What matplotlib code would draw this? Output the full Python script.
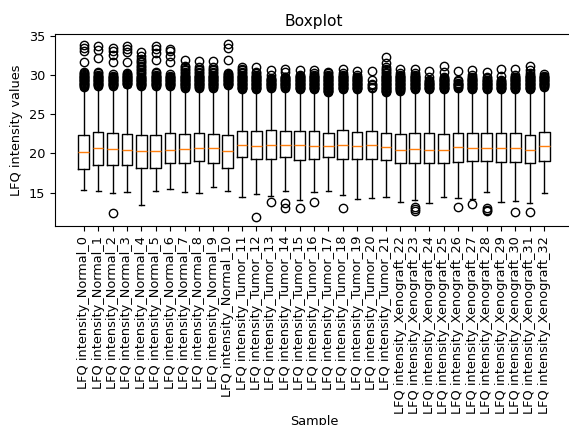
import matplotlib
matplotlib.use('Agg')
import matplotlib.pyplot as plt

plt.rcParams['font.size'] = 9.3

labels = [
    "LFQ intensity_Normal_0", "LFQ intensity_Normal_1", "LFQ intensity_Normal_2",
    "LFQ intensity_Normal_3", "LFQ intensity_Normal_4", "LFQ intensity_Normal_5",
    "LFQ intensity_Normal_6", "LFQ intensity_Normal_7", "LFQ intensity_Normal_8",
    "LFQ intensity_Normal_9", "LFQ intensity_Normal_10",
    "LFQ intensity_Tumor_11", "LFQ intensity_Tumor_12", "LFQ intensity_Tumor_13",
    "LFQ intensity_Tumor_14", "LFQ intensity_Tumor_15", "LFQ intensity_Tumor_16",
    "LFQ intensity_Tumor_17", "LFQ intensity_Tumor_18", "LFQ intensity_Tumor_19",
    "LFQ intensity_Tumor_20", "LFQ intensity_Tumor_21",
    "LFQ intensity_Xenograft_22", "LFQ intensity_Xenograft_23", "LFQ intensity_Xenograft_24",
    "LFQ intensity_Xenograft_25", "LFQ intensity_Xenograft_26", "LFQ intensity_Xenograft_27",
    "LFQ intensity_Xenograft_28", "LFQ intensity_Xenograft_29", "LFQ intensity_Xenograft_30",
    "LFQ intensity_Xenograft_31", "LFQ intensity_Xenograft_32",
]

q1 = [18.06, 18.57, 18.53, 18.49, 18.15, 18.15, 18.74, 18.76, 19.03, 18.76, 18.15,
      19.50, 19.33, 19.29, 19.50, 19.21, 19.33, 19.50, 19.33, 19.25, 19.33, 19.21,
      18.82, 18.82, 18.82, 18.82, 18.91, 18.99, 18.99, 18.91, 18.89, 18.74, 19.08]
medians = [20.18, 20.69, 20.61, 20.48, 20.27, 20.27, 20.48, 20.52, 20.76, 20.67, 20.27,
           21.03, 20.99, 21.12, 21.12, 21.12, 20.99, 20.99, 21.03, 20.95, 21.03, 20.78,
           20.44, 20.57, 20.48, 20.44, 20.78, 20.69, 20.69, 20.69, 20.67, 20.44, 20.95]
q3 = [22.31, 22.69, 22.56, 22.52, 22.31, 22.31, 22.56, 22.52, 22.67, 22.54, 22.31,
      22.90, 22.90, 23.03, 22.90, 22.82, 22.90, 22.65, 22.94, 22.77, 22.90, 22.65,
      22.52, 22.56, 22.60, 22.48, 22.65, 22.65, 22.65, 22.65, 22.60, 22.35, 22.69]
whisker_low = [15.34, 15.17, 14.92, 15.09, 13.47, 15.26, 15.51, 15.13, 14.94, 15.79, 15.17,
               14.41, 14.83, 14.54, 15.26, 14.11, 15.05, 15.17, 14.75, 14.24, 14.32, 14.41,
               13.77, 14.11, 13.69, 14.41, 14.32, 14.20, 15.09, 13.82, 13.92, 13.73, 15.00]
whisker_high = [28.2, 28.4, 28.3, 28.5, 28.4, 28.4, 28.4, 28.2, 28.2, 28.2, 28.5,
                28.0, 28.0, 28.2, 28.2, 28.0, 28.0, 27.6, 28.0, 28.0, 28.2, 27.6,
                27.8, 28.0, 28.0, 28.0, 28.2, 28.0, 28.0, 28.0, 28.0, 28.0, 28.3]

fliers = [
    # Normal_0
    [28.5, 28.6, 28.7, 28.8, 28.9, 29.0, 29.1, 29.2, 29.3, 29.4, 29.5, 29.6, 29.7, 29.8,
     29.9, 30.0, 30.1, 30.2, 30.4, 31.7, 33.0, 33.4, 33.8],
    # Normal_1
    [28.6, 28.7, 28.8, 28.9, 29.0, 29.1, 29.2, 29.3, 29.4, 29.5, 29.6, 29.7, 29.8, 29.9,
     30.0, 30.2, 30.4, 32.2, 33.2, 33.7],
    # Normal_2
    [28.6, 28.7, 28.8, 28.9, 29.0, 29.1, 29.2, 29.3, 29.4, 29.5, 29.6, 29.7, 29.8, 29.9,
     30.1, 31.7, 32.6, 33.1, 33.5, 12.37],
    # Normal_3
    [28.8, 28.9, 29.0, 29.1, 29.2, 29.3, 29.4, 29.5, 29.6, 29.7, 29.8, 29.9, 30.0, 30.1,
     30.3, 31.7, 32.9, 33.3, 33.7],
    # Normal_4
    [28.6, 28.7, 28.8, 28.9, 29.0, 29.1, 29.2, 29.3, 29.4, 29.5, 29.6, 29.7, 29.8, 30.0,
     30.2, 30.4, 30.6, 30.8, 31.0, 31.2, 31.4, 31.6, 31.8, 32.0, 32.4, 32.9],
    # Normal_5
    [28.6, 28.7, 28.8, 28.9, 29.0, 29.1, 29.2, 29.3, 29.4, 29.5, 29.6, 29.7, 29.8, 29.9,
     30.0, 30.2, 30.4, 31.9, 32.8, 33.3, 33.7],
    # Normal_6
    [28.6, 28.7, 28.8, 28.9, 29.0, 29.1, 29.2, 29.3, 29.4, 29.5, 29.6, 29.7, 29.8, 29.9,
     30.1, 31.7, 32.4, 33.0, 33.3],
    # Normal_7
    [28.4, 28.5, 28.6, 28.7, 28.8, 28.9, 29.0, 29.1, 29.2, 29.3, 29.4, 29.5, 29.6, 29.7,
     29.8, 29.9, 30.0, 30.2, 30.4, 30.6, 30.8, 31.0, 31.2, 31.9],
    # Normal_8
    [28.4, 28.5, 28.6, 28.7, 28.8, 28.9, 29.0, 29.1, 29.2, 29.3, 29.4, 29.5, 29.6, 29.7,
     29.8, 29.9, 30.0, 30.2, 30.4, 30.6, 30.8, 31.0, 31.8],
    # Normal_9
    [28.4, 28.5, 28.6, 28.7, 28.8, 28.9, 29.0, 29.1, 29.2, 29.3, 29.4, 29.5, 29.6, 29.7,
     29.8, 29.9, 30.0, 30.2, 30.4, 30.6, 30.8, 31.0, 31.8],
    # Normal_10
    [28.7, 28.8, 28.9, 29.0, 29.1, 29.2, 29.3, 29.4, 29.5, 29.6, 29.7, 29.8, 29.9, 30.0,
     30.1, 30.3, 31.9, 33.5, 33.9],
    # Tumor_11
    [28.2, 28.3, 28.4, 28.5, 28.6, 28.7, 28.8, 28.9, 29.0, 29.1, 29.2, 29.3, 29.4, 29.5,
     29.6, 29.7, 29.8, 29.9, 30.0, 30.2, 30.4, 30.6, 30.8, 31.0],
    # Tumor_12
    [28.2, 28.3, 28.4, 28.5, 28.6, 28.7, 28.8, 28.9, 29.0, 29.1, 29.2, 29.3, 29.4, 29.5,
     29.6, 29.7, 29.8, 29.9, 30.0, 30.2, 30.4, 31.0, 11.95],
    # Tumor_13
    [28.4, 28.5, 28.6, 28.7, 28.8, 28.9, 29.0, 29.1, 29.2, 29.3, 29.4, 29.5, 29.6, 30.0,
     30.6, 13.8],
    # Tumor_14
    [28.4, 28.5, 28.6, 28.7, 28.8, 28.9, 29.0, 29.1, 29.2, 29.3, 29.4, 29.5, 29.6, 29.7,
     29.8, 30.4, 30.8, 13.7, 13.1],
    # Tumor_15
    [28.2, 28.3, 28.4, 28.5, 28.6, 28.7, 28.8, 28.9, 29.0, 29.1, 29.2, 29.3, 29.4, 29.5,
     29.6, 29.7, 29.8, 29.9, 30.0, 30.6, 13.05],
    # Tumor_16
    [28.2, 28.3, 28.4, 28.5, 28.6, 28.7, 28.8, 28.9, 29.0, 29.1, 29.2, 29.3, 29.4, 29.5,
     29.6, 29.7, 29.8, 29.9, 30.0, 30.2, 30.6, 13.8],
    # Tumor_17
    [27.8, 27.9, 28.0, 28.1, 28.2, 28.3, 28.4, 28.5, 28.6, 28.7, 28.8, 28.9, 29.0, 29.1,
     29.2, 29.3, 29.4, 29.5, 29.6, 29.7, 29.8, 29.9, 30.0, 30.2, 30.4],
    # Tumor_18
    [28.2, 28.3, 28.4, 28.5, 28.6, 28.7, 28.8, 28.9, 29.0, 29.1, 29.2, 29.3, 29.4, 29.5,
     29.6, 29.7, 29.8, 29.9, 30.0, 30.2, 30.7, 13.05],
    # Tumor_19
    [28.2, 28.3, 28.4, 28.5, 28.6, 28.7, 28.8, 28.9, 29.0, 29.1, 29.2, 29.3, 29.4, 29.5,
     29.6, 29.7, 29.8, 30.0, 30.5],
    # Tumor_20
    [28.4, 28.5, 28.7, 28.9, 29.4, 30.5],
    # Tumor_21
    [27.8, 27.9, 28.0, 28.1, 28.2, 28.3, 28.4, 28.5, 28.6, 28.7, 28.8, 28.9, 29.0, 29.1,
     29.2, 29.3, 29.4, 29.5, 29.6, 29.7, 29.8, 29.9, 30.0, 30.2, 30.4, 30.6, 30.8, 31.0,
     31.5, 32.3],
    # Xenograft_22
    [28.0, 28.1, 28.2, 28.3, 28.4, 28.5, 28.6, 28.7, 28.8, 28.9, 29.0, 29.1, 29.2, 29.3,
     29.4, 29.5, 29.6, 29.7, 29.8, 29.9, 30.0, 30.2, 30.8],
    # Xenograft_23
    [28.2, 28.3, 28.4, 28.5, 28.6, 28.7, 28.8, 28.9, 29.0, 29.1, 29.2, 29.3, 29.4, 29.5,
     29.6, 29.7, 29.8, 29.9, 30.0, 30.2, 30.8, 13.2, 12.9, 12.7],
    # Xenograft_24
    [28.2, 28.3, 28.4, 28.5, 28.6, 28.7, 28.8, 28.9, 29.0, 29.1, 29.2, 29.4, 29.8, 30.5],
    # Xenograft_25
    [28.2, 28.3, 28.4, 28.5, 28.6, 28.7, 28.8, 28.9, 29.0, 29.1, 29.2, 29.3, 29.4, 29.5,
     29.6, 29.8, 30.4, 31.1],
    # Xenograft_26
    [28.4, 28.5, 28.6, 28.7, 28.8, 28.9, 29.0, 29.2, 29.4, 30.5, 13.14],
    # Xenograft_27
    [28.2, 28.3, 28.4, 28.5, 28.6, 28.7, 28.8, 28.9, 29.0, 29.1, 29.2, 29.3, 29.4, 29.5,
     29.6, 29.8, 30.0, 30.6, 13.56],
    # Xenograft_28
    [28.2, 28.3, 28.4, 28.5, 28.6, 28.7, 28.8, 28.9, 29.0, 29.1, 29.2, 29.3, 29.4, 29.6,
     29.8, 30.4, 13.0, 12.8, 12.7],
    # Xenograft_29
    [28.2, 28.3, 28.4, 28.5, 28.6, 28.7, 28.8, 28.9, 29.0, 29.1, 29.2, 29.4, 29.9, 30.7],
    # Xenograft_30
    [28.2, 28.3, 28.4, 28.5, 28.6, 28.7, 28.8, 28.9, 29.0, 29.1, 29.2, 29.3, 29.4, 29.5,
     29.6, 29.7, 29.8, 30.0, 30.8, 12.6],
    # Xenograft_31
    [28.2, 28.3, 28.4, 28.5, 28.6, 28.7, 28.8, 28.9, 29.0, 29.1, 29.2, 29.3, 29.4, 29.5,
     29.6, 29.7, 29.8, 29.9, 30.0, 30.2, 30.6, 31.2, 12.58],
    # Xenograft_32
    [28.5, 28.6, 28.7, 28.8, 28.9, 29.0, 29.1, 29.2, 29.3, 29.4, 29.5, 29.6, 29.7, 29.8,
     29.9, 30.1],
]

stats = []
for i in range(len(labels)):
    stats.append(dict(label=labels[i], q1=q1[i], med=medians[i], q3=q3[i],
                      whislo=whisker_low[i], whishi=whisker_high[i], fliers=fliers[i]))

W, H = 569, 425
fig = plt.figure(figsize=(W / 100, H / 100), dpi=100)
ax = fig.add_axes([55 / W, 1 - 226 / H, (573 - 55) / W, 192 / H])

ax.bxp(stats, positions=list(range(1, len(labels) + 1)), widths=0.74,
       flierprops=dict(marker='o', markerfacecolor='none', markeredgecolor='black'),
       medianprops=dict(color='C1'))

ax.set_xlim(-1, 35)
ax.set_ylim(10.76, 35.22)
ax.set_yticks([15, 20, 25, 30, 35])
ax.tick_params(axis='x', labelrotation=90)
ax.set_title('Boxplot')
ax.set_xlabel('Sample', labelpad=1)
ax.set_ylabel('LFQ intensity values')

fig.savefig('out.png', dpi=100)
